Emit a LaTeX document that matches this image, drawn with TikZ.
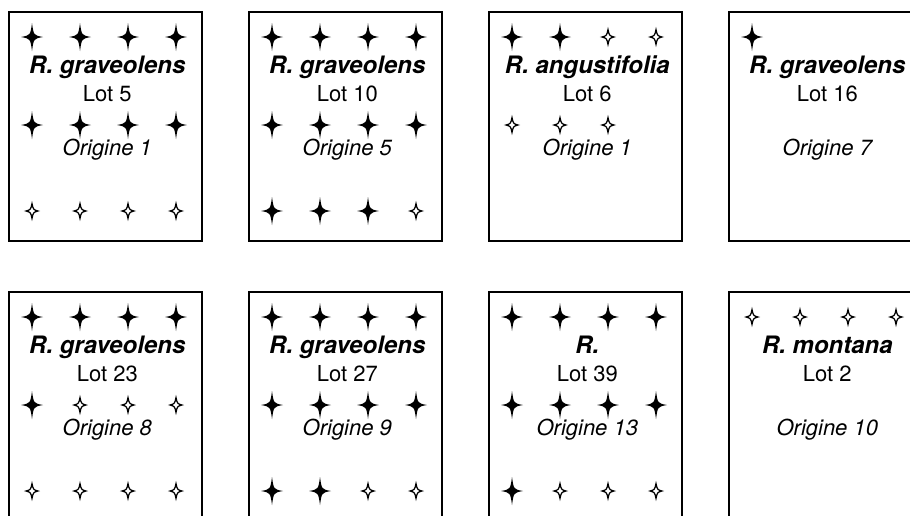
\documentclass[tikz,border=0pt]{standalone}
\usepackage{fontspec}
\setmainfont{TeX Gyre Heros}
\usetikzlibrary{calc}

\tikzset{
    starf/.pic={\fill (11,0) .. controls (1.7,1.7) .. (0,14) .. controls (-1.7,1.7) .. (-11,0)
        .. controls (-1.7,-1.7) .. (0,-14) .. controls (1.7,-1.7) .. cycle;},
    staro/.pic={\draw[line width=1.2pt, fill=white] (6,0) .. controls (1.3,1.3) .. (0,7.5)
        .. controls (-1.3,1.3) .. (-6,0) .. controls (-1.3,-1.3) .. (0,-7.5)
        .. controls (1.3,-1.3) .. cycle;},
    starn/.pic={}
}

\begin{document}
\begin{tikzpicture}[
    x=1pt, y=-1pt,
    lotbox/.style={draw, line width=1.6pt, minimum width=193pt, minimum height=229pt,
        inner sep=0pt, anchor=north west},
    species/.style={font=\fontsize{24}{28}\selectfont\bfseries\itshape, anchor=base},
    lotnum/.style={font=\fontsize{22}{26}\selectfont, anchor=base},
    origin/.style={font=\fontsize{22}{26}\selectfont\itshape, anchor=base}
]
\useasboundingbox (0,0) rectangle (910,515);
\clip (0,0) rectangle (910,515);

% one box per lot: name/x/y/species/lot/origine/star rows
\foreach \nm/\xx/\yy/\spec/\lot/\ori/\ra/\rb/\rc in {
    1/8/11/{R. graveolens}/5/1/{f,f,f,f}/{f,f,f,f}/{o,o,o,o},
    2/248/11/{R. graveolens}/10/5/{f,f,f,f}/{f,f,f,f}/{f,f,f,o},
    3/488/11/{R. angustifolia}/6/1/{f,f,o,o}/{o,o,o}/{n},
    4/728/11/{R. graveolens}/16/7/{f}/{n}/{n},
    5/8/291/{R. graveolens}/23/8/{f,f,f,f}/{f,o,o,o}/{o,o,o,o},
    6/248/291/{R. graveolens}/27/9/{f,f,f,f}/{f,f,f,f}/{f,f,o,o},
    7/488/291/{R.}/39/13/{f,f,f,f}/{f,f,f,f}/{f,o,o,o},
    8/728/291/{R. montana}/2/10/{o,o,o,o}/{n}/{n}}{
    \node[lotbox] (b\nm) at (\xx,\yy) {};
    \node[species] (sp\nm) at ($(b\nm.north)+(2,62)$) {\spec};
    \node[lotnum] (lot\nm) at ($(b\nm.north)+(2,90)$) {Lot \lot};
    \node[origin] (ori\nm) at ($(b\nm.north)+(2,144)$) {Origine \ori};
    \foreach \t [count=\i] in \ra {\pic at ($(b\nm.north west)+(\i*48-24,26)$) {star\t};}
    \foreach \t [count=\i] in \rb {\pic at ($(b\nm.north west)+(\i*48-24,114)$) {star\t};}
    \foreach \t [count=\i] in \rc {\pic at ($(b\nm.north west)+(\i*48-24,200)$) {star\t};}
}
\end{tikzpicture}
\end{document}
